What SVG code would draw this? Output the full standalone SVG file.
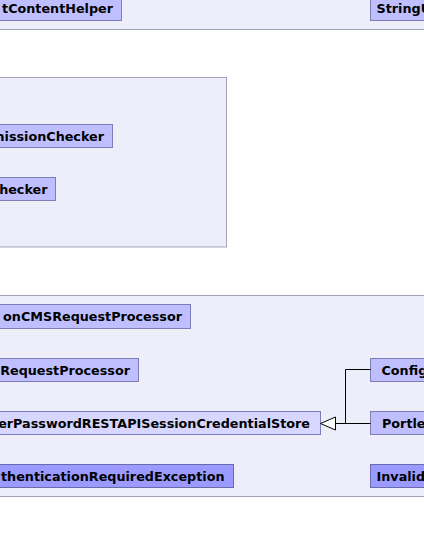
<svg xmlns="http://www.w3.org/2000/svg" width="424" height="534" viewBox="0 0 424 534">
<defs>
<style>
.pkg{fill:#eeeefa;stroke:#a3a3b8;stroke-width:1}
.n{fill:#bfbfff;stroke:#7d7db8;stroke-width:1}
.cur{fill:#d6d6ff;stroke:#7d7db8;stroke-width:1}
.ex{fill:#9a9aff;stroke:#6a6ab0;stroke-width:1}
text{font-family:"DejaVu Sans",sans-serif;font-weight:bold;font-size:12.75px;fill:#000}
.e{text-anchor:end}
.edge{fill:none;stroke:#000;stroke-width:1}
</style>
</defs>
<rect class="pkg" x="-20" y="-20" width="470" height="49.5"/>
<rect class="pkg" x="-20" y="77.5" width="246.5" height="169.5"/>
<rect class="pkg" x="-20" y="295.5" width="470" height="201"/>
<g id="node-textcontenthelper"><rect class="n" x="-20" y="-10" width="141.5" height="30.5"/><text class="e" x="113" y="12.5">tContentHelper</text></g>
<g id="node-stringu"><rect class="n" x="370.5" y="-10" width="80" height="30.5"/><text x="376.5" y="12.5">StringU</text></g>
<g id="node-permissionchecker"><rect class="n" x="-20" y="124.5" width="132.5" height="23"/><text class="e" x="104" y="141">missionChecker</text></g>
<g id="node-checker"><rect class="n" x="-20" y="177.5" width="75.5" height="23"/><text class="e" x="47.5" y="194">hecker</text></g>
<g id="node-cmsrequestprocessor"><rect class="n" x="-20" y="304.5" width="210.5" height="24"/><text class="e" x="182" y="321">onCMSRequestProcessor</text></g>
<g id="node-requestprocessor"><rect class="n" x="-20" y="358.5" width="158.5" height="23"/><text class="e" x="130" y="375">RequestProcessor</text></g>
<g id="node-config"><rect class="n" x="370.5" y="358.5" width="80" height="23"/><text x="381.5" y="375">Config</text></g>
<g id="node-credentialstore"><rect class="cur" x="-20" y="411.5" width="340.5" height="23"/><text class="e" x="310" y="428">erPasswordRESTAPISessionCredentialStore</text></g>
<g id="node-portle"><rect class="n" x="370.5" y="411.5" width="80" height="23"/><text x="382" y="428">Portle</text></g>
<g id="node-authexception"><rect class="ex" x="-20" y="464.5" width="253.5" height="23"/><text class="e" x="224.5" y="481">thenticationRequiredException</text></g>
<g id="node-invalid"><rect class="ex" x="370.5" y="464.5" width="80" height="23"/><text x="376.5" y="481">Invalid</text></g>
<g id="connectors">
<polyline class="edge" points="370.5,369.5 345.5,369.5 345.5,423.5"/>
<line class="edge" x1="370.5" y1="423.5" x2="335.5" y2="423.5"/>
<polygon points="320.5,423.5 335.5,417 335.5,430" fill="#fff" stroke="#000" stroke-width="1"/>
</g>
</svg>
